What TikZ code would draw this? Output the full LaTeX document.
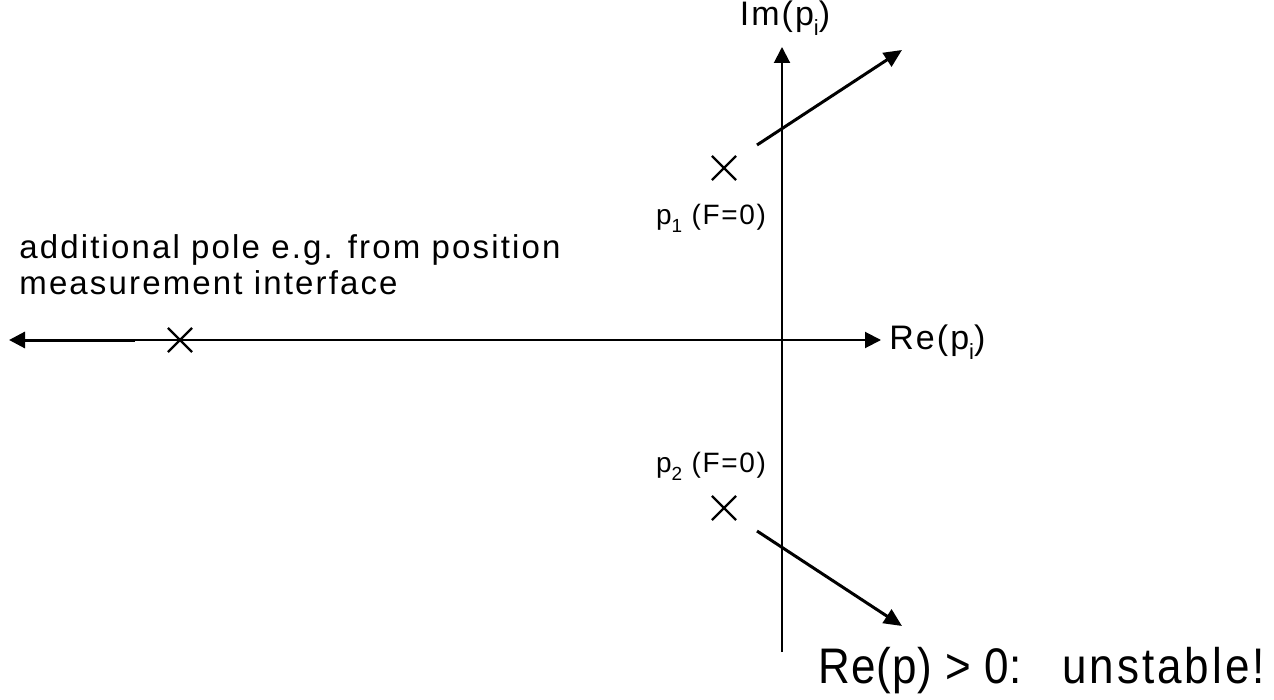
\documentclass[tikz,border=0pt]{standalone}
\usepackage{fontspec}
\setmainfont{Liberation Sans}[LetterSpace=6]
\usetikzlibrary{arrows.meta,shapes.misc,positioning}
\newcommand{\lowsub}[2][10]{\raisebox{-0.55ex}{\fontsize{#1}{#1}\selectfont #2}}
\tikzset{
    % axes of the complex plane
    axisline/.style={line width=1pt, -{Triangle[length=8pt,width=8pt]}},
    % direction in which a pole moves
    polepath/.style={line width=1.5pt, -{Triangle[length=9pt,width=8pt]}},
    % pole marker
    pole/.style={cross out, draw, line width=1.1pt, minimum size=11pt, inner sep=0pt},
}
\begin{document}
\begin{tikzpicture}[x=0.5pt,y=-0.5pt,
   lbl/.style={font=\fontsize{17}{19}\selectfont, inner sep=0pt},
   plbl/.style={font=\fontsize{14}{17}\selectfont, inner sep=0pt}]
  \useasboundingbox (0,0) rectangle (1274,700);

  % axes
  \coordinate (o) at (782,340);
  \coordinate (imbot) at (782,652);
  \coordinate (imtop) at (782,47);
  \coordinate (retip) at (881,340);
  \coordinate (rebreak) at (135,340);
  \coordinate (letip) at (9,340);
  \draw[axisline] (imbot) -- (imtop);
  \draw[axisline] (rebreak) -- (retip);
  \draw[line width=1.5pt,-{Triangle[length=8pt,width=8pt]}] (rebreak) -- (letip);
  \node[lbl,anchor=south] (imlbl) at (785,36) {Im(p\lowsub[11]{i})};
  \node[lbl,anchor=west] (relbl) at (889,342) {Re(p\lowsub[11]{i})};

  % poles
  \node[pole] (p1) at (724,168) {};
  \node[pole] (p2) at (724,508) {};
  \node[pole] (p3) at (180,340) {};
  \node[plbl] (p1lbl) at (711,218) {p\lowsub[9.5]{1} (F=0)};
  \node[plbl] (p2lbl) at (711,466) {p\lowsub[9.5]{2} (F=0)};
  \node[anchor=west,align=left,inner sep=0pt,
        font=\fontsize{16.5}{18}\selectfont\addfontfeature{LetterSpace=6.5}] (p3lbl) at (19,265)
       {additional pole e.g. from position\\measurement interface};

  % root paths
  \coordinate (p1from) at (757,145);
  \coordinate (p1to) at (902,50);
  \coordinate (p2from) at (757,531);
  \coordinate (p2to) at (902,626);
  \draw[polepath] (p1from) -- (p1to);
  \draw[polepath] (p2from) -- (p2to);

  % verdict
  \node[anchor=base west,inner sep=0pt,
        font=\fontsize{25}{28}\selectfont\addfontfeature{LetterSpace=2,FakeStretch=0.88}]
       (verdict) at (818,683) {Re(p) > 0:\hspace{20pt}{\addfontfeature{LetterSpace=6}unstable!}};
\end{tikzpicture}
\end{document}
